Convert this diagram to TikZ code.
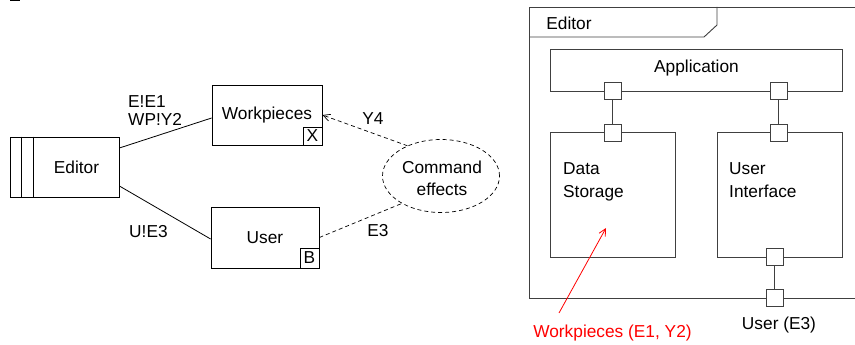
\documentclass[tikz,border=0pt]{standalone}
\usepackage{fontspec}
\setmainfont{Liberation Sans}
\usetikzlibrary{arrows.meta,shapes.geometric}
\begin{document}
\begin{tikzpicture}[x=1pt,y=-1pt,
  every node/.style={font=\fontsize{17.3}{20}\selectfont, inner sep=0pt},
  box/.style={draw, line width=0.8pt, rectangle},
  gbox/.style={draw=black!75, line width=0.9pt, rectangle},
  port/.style={draw=black!75, fill=white, minimum size=17pt, line width=0.9pt},
  conn/.style={line width=0.8pt},
  gconn/.style={draw=black!75, line width=0.9pt},
  dconn/.style={line width=0.7pt, dash pattern=on 4pt off 3pt},
  tip/.style={-{Straight Barb[length=7pt,width=7pt]}}
]
\useasboundingbox (0,0) rectangle (855,345);
\fill (10,0) rectangle (20,1.3);

% ---- left diagram ----
\node[box, minimum width=109pt, minimum height=60pt] (ed) at (64.5,167) {};
\draw[conn] ([xshift=12pt]ed.north west) -- ([xshift=12pt]ed.south west);
\draw[conn] ([xshift=24pt]ed.north west) -- ([xshift=24pt]ed.south west);
\node (edt) at (76.5,167) {Editor};

\node[box, minimum width=110pt, minimum height=60pt] (wp) at (267,115) {Workpieces};
\node[box, minimum width=19pt, minimum height=18pt, anchor=south east] (wpx) at (wp.south east) {X};

\node[box, minimum width=108pt, minimum height=61pt] (us) at (265,237.5) {User};
\node[box, minimum width=19pt, minimum height=20pt, anchor=south east] (usb) at (us.south east) {B};

\node[draw, ellipse, dconn, minimum width=117pt, minimum height=73pt] (ce) at (441,176) {};
\node[align=center, font=\fontsize{17.3}{22.5}\selectfont] (cet) at (442,178.5) {Command\\effects};

\draw[conn] ([yshift=19pt]ed.east) -- ([yshift=-3pt]wp.west);
\draw[conn] ([yshift=-19pt]ed.east) -- ([yshift=-1.5pt]us.west);
\draw[dconn, tip] (ce.138) -- (wp.east);
\draw[dconn] (us.east) -- (ce.215);

\node[anchor=west, align=left, font=\fontsize{17.3}{18}\selectfont] (l1) at (128,110.5) {E!E1\\WP!Y2};
\node[anchor=west] (l2) at (129,232) {U!E3};
\node (l3) at (373,119) {Y4};
\node (l4) at (378,231) {E3};

% ---- right diagram ----
\draw[gconn] (855,7) -- (529,7) -- (529,298) -- (855,298);
\draw[gconn] (529,37) -- (704,37) -- (717,25) -- (717,7);
\node (tabt) at (569,23) {Editor};

\node[gbox, minimum width=292pt, minimum height=42pt] (app) at (696,70) {};
\node (appt) at (696.5,68.5) {Application};

\node[gbox, minimum width=125pt, minimum height=125pt] (ds) at (612.5,194.5) {};
\node[anchor=base west] (ds1) at (563,174) {Data};
\node[anchor=base west] (ds2) at (563,197) {Storage};

\node[gbox, minimum width=125pt, minimum height=125pt] (ui) at (779.5,194.5) {};
\node[anchor=base west] (ui1) at (729,174) {User};
\node[anchor=base west] (ui2) at (729,197) {Interface};

\node[port] (pa1) at (612.5,91) {};
\node[port] (pds) at (612.5,132.5) {};
\node[port] (pa2) at (778.5,91) {};
\node[port] (pui) at (778.5,132.5) {};
\node[port] (puib) at (774.5,257) {};
\node[port] (pfr) at (774.5,298) {};
\draw[gconn] (pa1) -- (pds);
\draw[gconn] (pa2) -- (pui);
\draw[gconn] (puib) -- (pfr);

\node (ue3) at (779,325.5) {User (E3)};

\node[text=red] (wpr) at (612.5,333) {Workpieces (E1, Y2)};
\coordinate (rs) at (559,313);
\coordinate (rt) at (606,228);
\draw[red, line width=0.8pt, tip] (rs) -- (rt);
\end{tikzpicture}
\end{document}
